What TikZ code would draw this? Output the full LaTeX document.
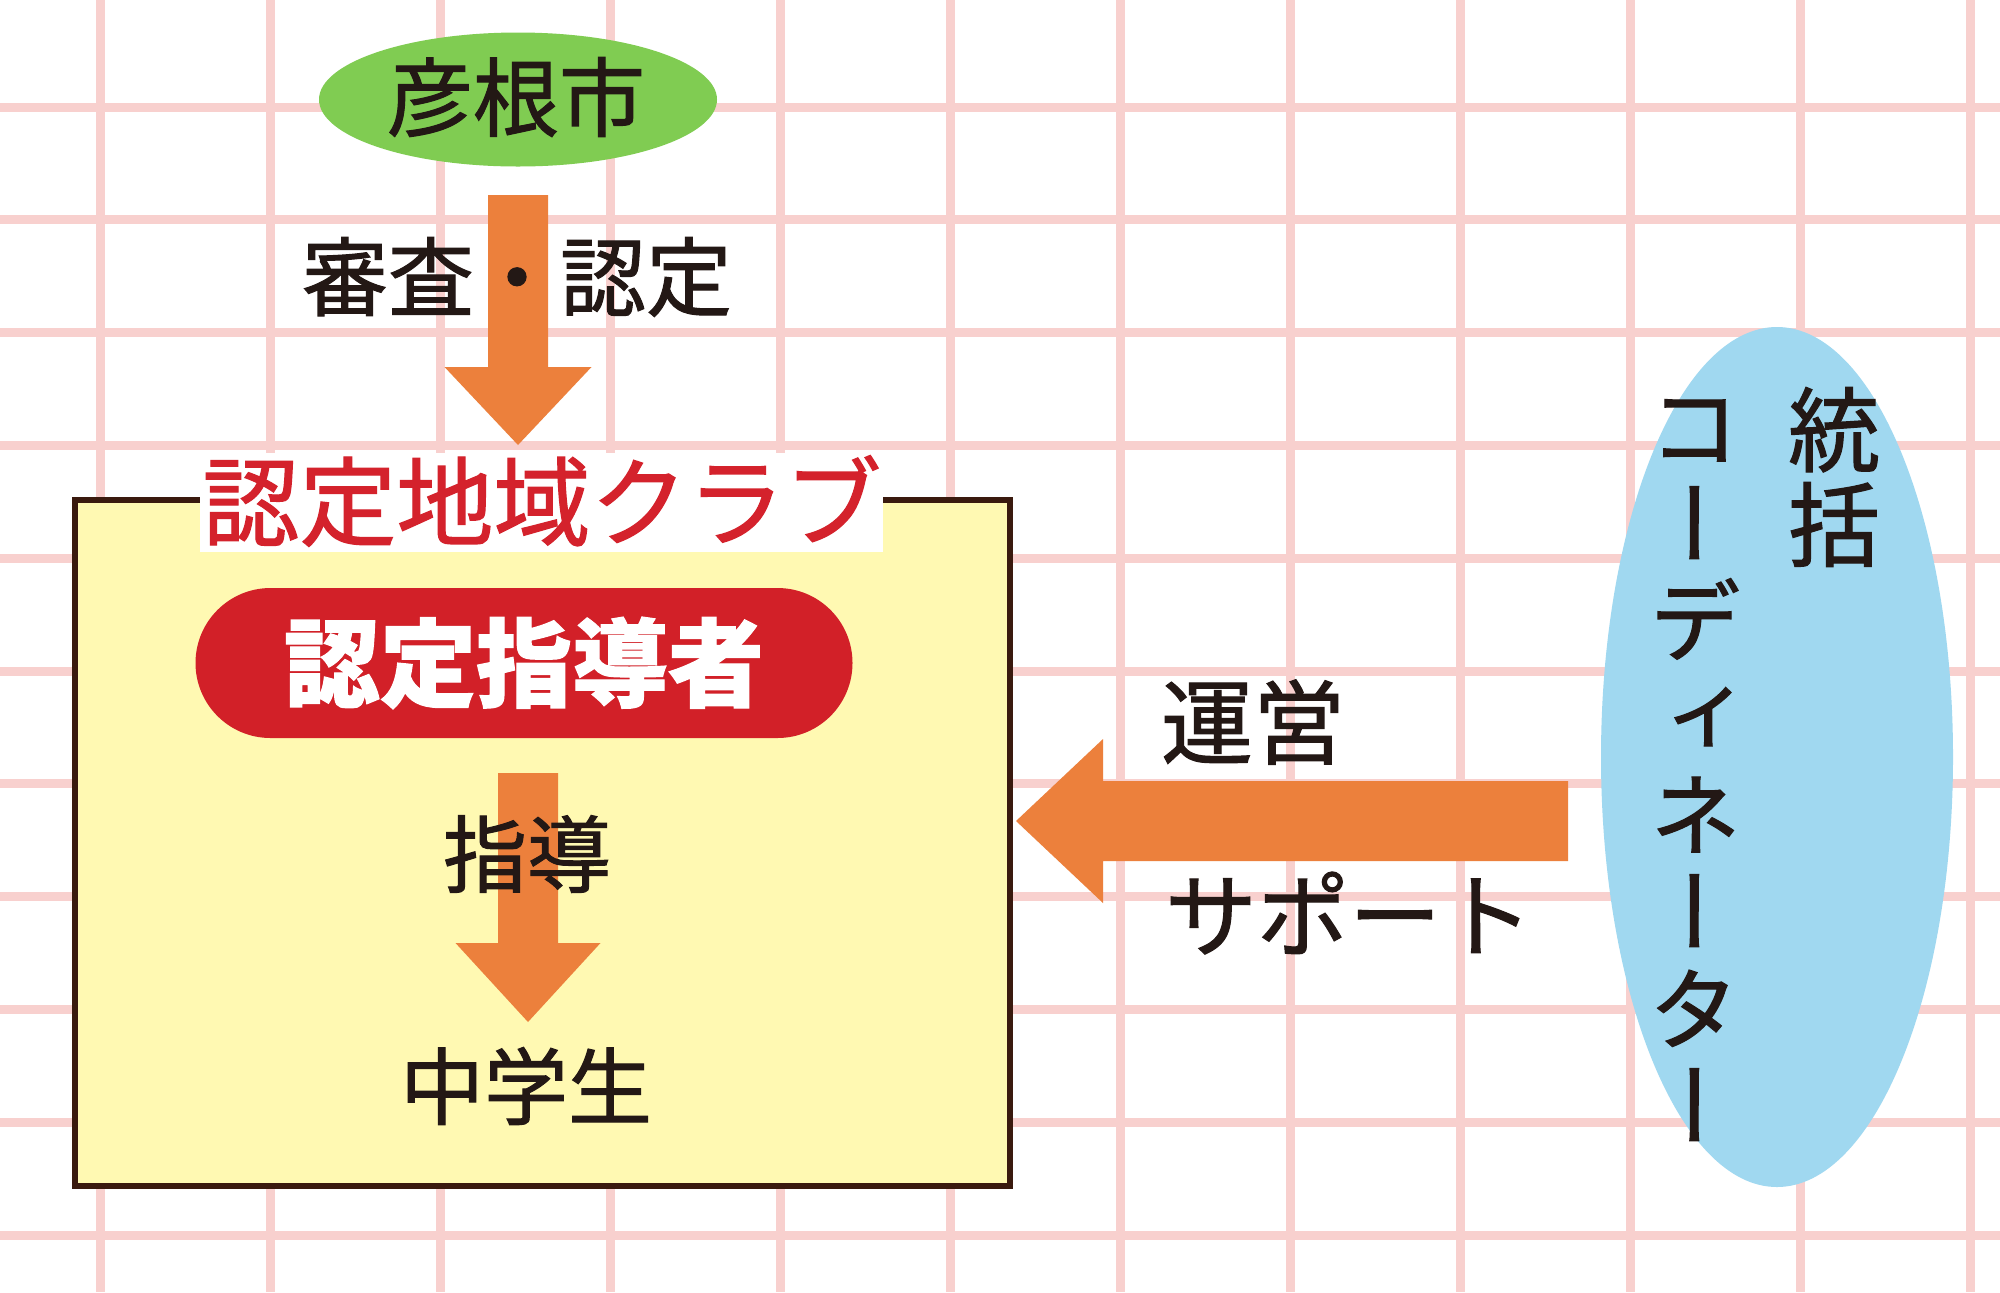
\documentclass[tikz,border=0pt]{standalone}
\usepackage{fontspec}
\newfontfamily\jp[FakeBold=1.2]{Noto Sans CJK JP}
\newfontfamily\jpv[RawFeature=+vert,FakeBold=1.2]{Noto Sans CJK JP}
\usetikzlibrary{calc,shapes.geometric}
\definecolor{gridpink}{RGB}{248,208,206}
\definecolor{citygreen}{RGB}{128,204,82}
\definecolor{arroworange}{RGB}{236,128,60}
\definecolor{boxyellow}{RGB}{255,249,178}
\definecolor{boxbrown}{RGB}{58,26,14}
\definecolor{pillred}{RGB}{210,32,40}
\definecolor{labelred}{RGB}{212,34,44}
\definecolor{coordblue}{RGB}{160,216,240}
\definecolor{ink}{RGB}{35,24,21}
\begin{document}
\begin{tikzpicture}[x=0.5pt,y=-0.5pt,
  gridline/.style={draw=gridpink, line width=4.5pt},
  txt/.style={font={\jp\fontsize{#1}{#1}\selectfont}, text=ink, inner sep=0pt},
  vtxt/.style 2 args={font={\jpv\fontsize{#1}{#2}\selectfont}, text=ink, inner sep=0pt, align=center},
  blockarrow/.style={fill=arroworange},
  flat/.style={inner sep=0pt, outer sep=0pt}]
\useasboundingbox (0,0) rectangle (2000,1292);
\fill[white] (0,0) rectangle (2000,1292);
% grid
\foreach \k in {0,...,11} \draw[gridline] (100+170*\k,0) -- (100+170*\k,1292);
\foreach \k in {0,...,10} \draw[gridline] (0,107+112.8*\k) -- (2000,107+112.8*\k);
% city
\node[flat, ellipse, fill=citygreen, minimum width=199pt, minimum height=67pt] (city) at (518,99.5) {};
\node[txt=43] (citytxt) at (516,97) {彦根市};
% arrow 1
\coordinate (a1s) at (518,195);
\coordinate (a1t) at (518,445);
\fill[blockarrow] ($(a1s)+(-30,0)$) -- ($(a1s)+(30,0)$) -- (548,367) -- (591.5,367) -- (a1t) -- (444.5,367) -- (488,367) -- cycle;
\node[txt=43] (review) at (517,277) {審査・認定};
% club box
\node[flat, draw=boxbrown, line width=3pt, fill=boxyellow, minimum width=467.5pt, minimum height=343pt, anchor=north west] (club) at (75,500) {};
\node[flat, fill=white, minimum width=341.5pt, minimum height=49.5pt] (labelbg) at (541.5,502.5) {};
\node[txt=48.5, text=labelred] (labeltxt) at (542,501) {認定地域クラブ};
% leader pill
\node[flat, fill=pillred, rounded corners=37.5pt, minimum width=328.5pt, minimum height=75pt, text=white, font={\jp\bfseries\fontsize{48}{48}\selectfont}] (leader) at (524,663) {認定指導者};
% arrow 2
\coordinate (a2s) at (528,773);
\coordinate (a2t) at (528,1022);
\fill[blockarrow] ($(a2s)+(-30,0)$) -- ($(a2s)+(30,0)$) -- (558,943) -- (600.5,943) -- (a2t) -- (455.5,943) -- (498,943) -- cycle;
\node[txt=42] (guide) at (527,854) {指導};
\node[txt=42] (students) at (526,1086) {中学生};
% arrow 3
\coordinate (a3s) at (1568,821);
\coordinate (a3t) at (1016,821);
\fill[blockarrow] ($(a3s)+(0,-40)$) -- (1103,781) -- (1103,739) -- (a3t) -- (1103,903) -- (1103,861) -- ($(a3s)+(0,40)$) -- cycle;
\node[txt=46] (manage) at (1253,722) {運営};
\node[txt=46] (support) at (1349,913) {サポート};
% coordinator
\node[flat, ellipse, fill=coordblue, minimum width=176pt, minimum height=430pt] (coord) at (1777,757) {};
\node[vtxt={46}{47.5}] (overall) at (1834,477) {統\\括};
\node[vtxt={46}{48.5}] (coordtxt) at (1695,770) {コ\\ー\\デ\\ィ\\ネ\\ー\\タ\\ー};
\end{tikzpicture}
\end{document}
